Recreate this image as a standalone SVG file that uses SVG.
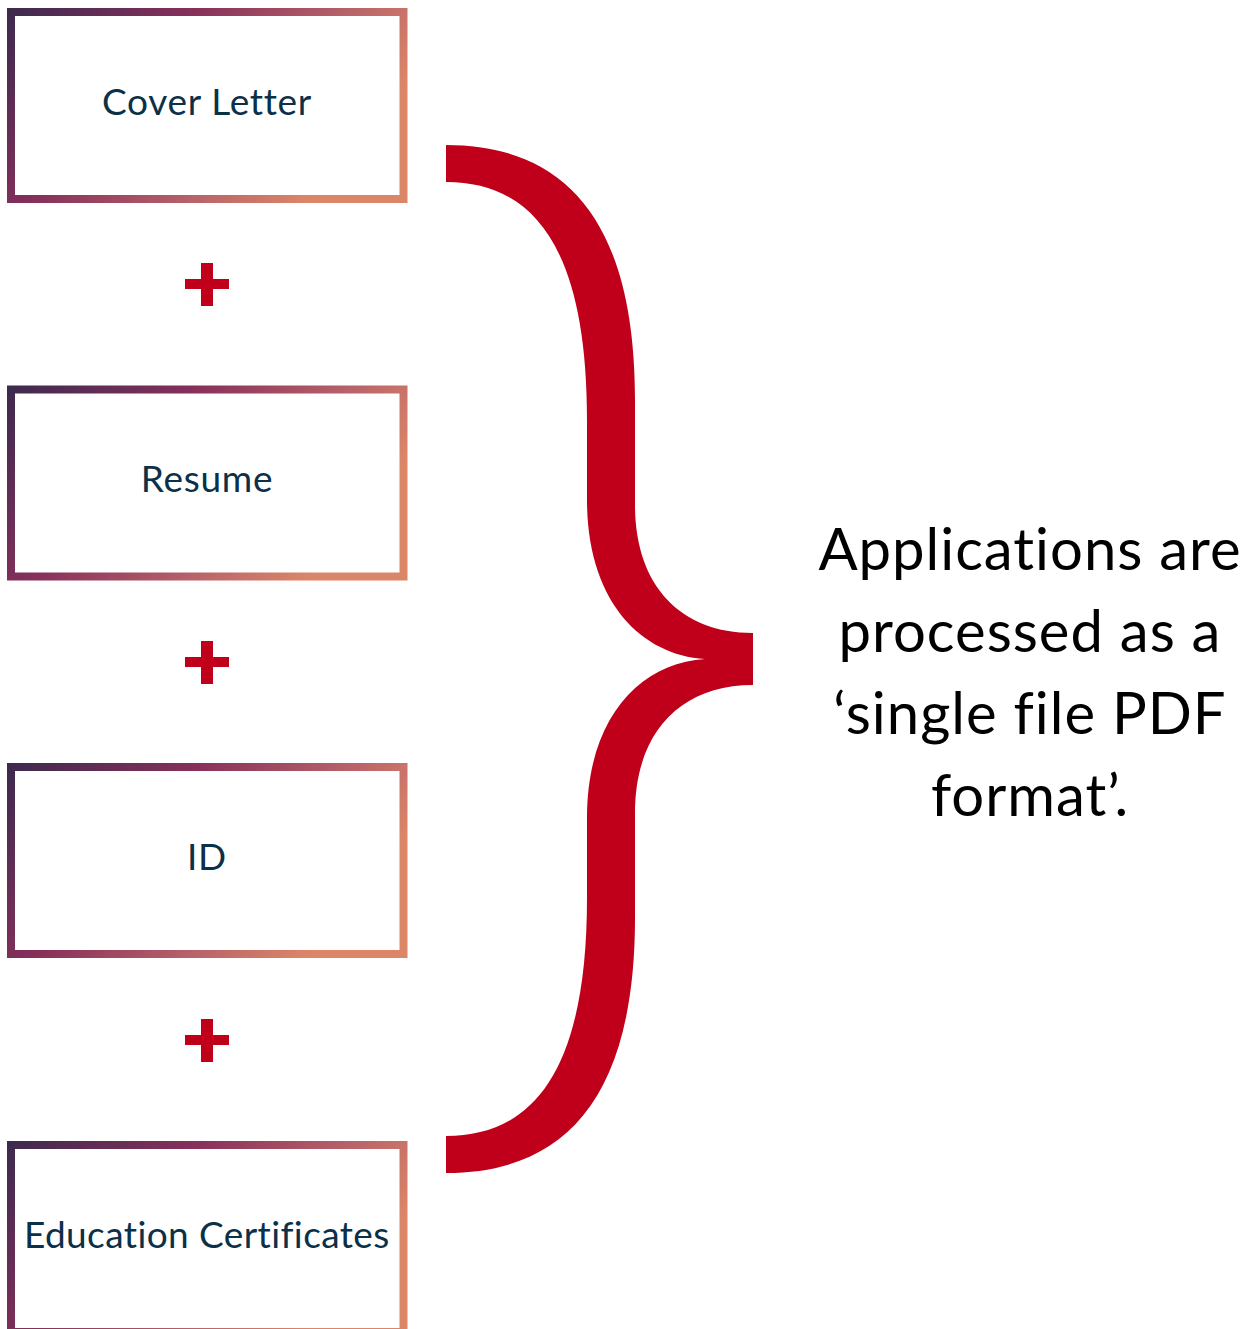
<svg xmlns="http://www.w3.org/2000/svg" width="1258" height="1329" viewBox="0 0 1258 1329">
<defs>
<linearGradient id="g" x1="0" y1="0" x2="1" y2="0.4">
<stop offset="0" stop-color="#3f2a4f"/>
<stop offset="0.4" stop-color="#86305a"/>
<stop offset="0.75" stop-color="#b9636a"/>
<stop offset="1" stop-color="#dc8668"/>
</linearGradient>
<style>
.box{fill:#fff;stroke:url(#g);stroke-width:8}
.lbl{font-family:Lato,"Open Sans",sans-serif;font-size:37px;fill:#0b3048;text-anchor:middle;letter-spacing:0.7px}
.plus{fill:#c0001b}
.big{font-family:Lato,"Open Sans",sans-serif;font-size:58px;fill:#000;text-anchor:middle;letter-spacing:1px}
</style>
</defs>
<rect width="1258" height="1329" fill="#fff"/>
<g id="cover-letter"><rect class="box" x="11" y="12" width="392.5" height="187"/><text class="lbl" x="207" y="115">Cover Letter</text></g>
<g id="resume"><rect class="box" x="11" y="389.5" width="392.5" height="187"/><text class="lbl" x="207" y="492">Resume</text></g>
<g id="id"><rect class="box" x="11" y="767" width="392.5" height="187"/><text class="lbl" x="207" y="870">ID</text></g>
<g id="education"><rect class="box" x="11" y="1145" width="392.5" height="187"/><text class="lbl" x="207" y="1248" textLength="366" lengthAdjust="spacing">Education Certificates</text></g>
<g id="plus1"><path class="plus" d="M201 263h12v16h16v10h-16v17h-12v-17h-16v-10h16z"/></g>
<g id="plus2"><path class="plus" d="M201 641h12v16h16v10h-16v17h-12v-17h-16v-10h16z"/></g>
<g id="plus3"><path class="plus" d="M201 1019h12v16h16v10h-16v17h-12v-17h-16v-10h16z"/></g>
<g id="connectors">
<path class="plus" d="M446,145 C565,145 635,220 635,400 L635,505 C635,585 680,633 753,633 L753,685 C680,685 635,733 635,813 L635,918 C635,1098 565,1173 446,1173 L446,1136 C535,1136 587,1068 587,898 L587,818 C587,718 640,663 705,659 C640,655 587,600 587,500 L587,420 C587,250 535,182 446,182 Z"/>
</g>
<g id="summary">
<text class="big" x="1030" y="570">Applications are</text>
<text class="big" x="1030" y="652">processed as a</text>
<text class="big" x="1030" y="734">‘single file PDF</text>
<text class="big" x="1030" y="816">format’.</text>
</g>
</svg>
